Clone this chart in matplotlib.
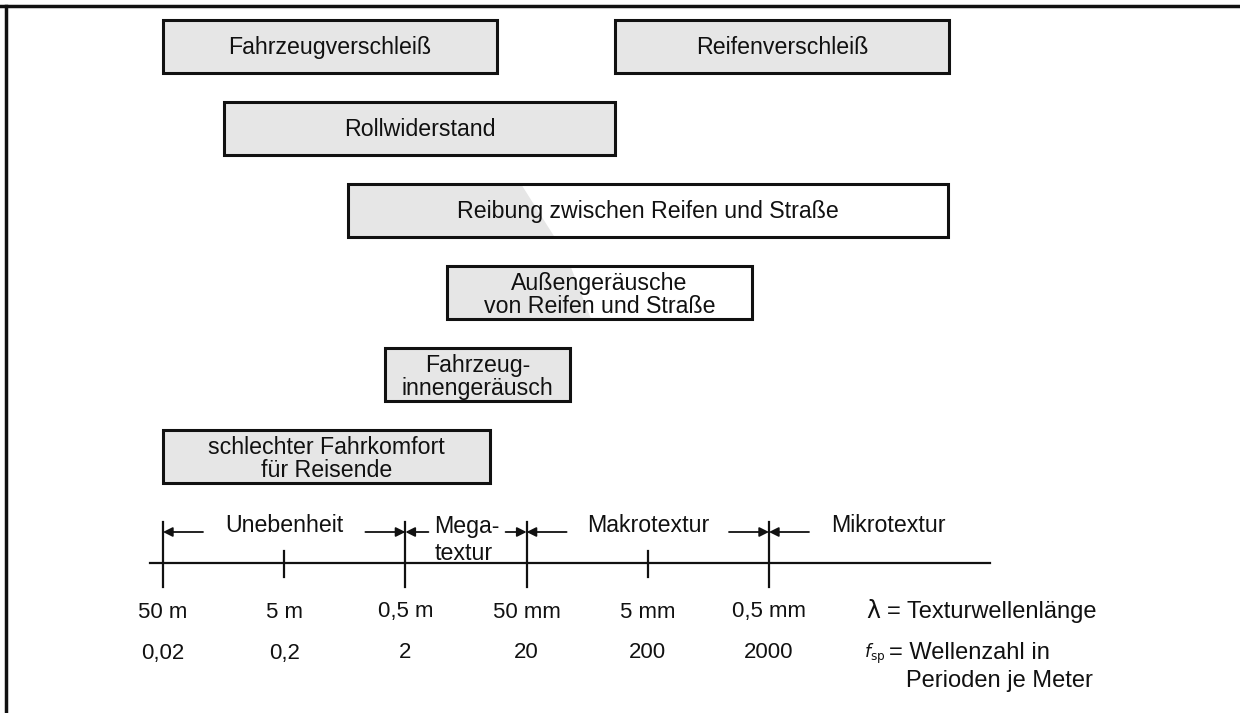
import numpy as np
import matplotlib.pyplot as plt
from matplotlib.patches import Rectangle, Polygon
from matplotlib.lines import Line2D

plt.rcParams['font.family'] = ['Liberation Sans', 'DejaVu Sans']

# effect boxes: wavenumber range (periods per metre) and row
box_labels = ["Fahrzeugverschleiß", "Reifenverschleiß", "Rollwiderstand",
              "Reibung zwischen Reifen und Straße",
              "Außengeräusche\nvon Reifen und Straße",
              "Fahrzeug-\ninnengeräusch",
              "schlechter Fahrkomfort\nfür Reisende"]
box_from = [0.02, 107, 0.064, 0.67, 4.4, 1.36, 0.02]
box_to = [11.4, 61000, 107, 60000, 1450, 46, 10]
box_row = [0, 0, 1, 2, 3, 4, 5]
# boxes shaded only partly (gray fades out between these wavenumbers)
fade_from = [None, None, None, 18, 46, None, None]
fade_to = [None, None, None, 34, 68, None, None]

# scale
tick_f = [0.02, 0.2, 2, 20, 200, 2000]
tick_lambda = ["50 m", "5 m", "0,5 m", "50 mm", "5 mm", "0,5 mm"]
tick_num = ["0,02", "0,2", "2", "20", "200", "2000"]
tick_long = [True, False, True, True, False, True]
range_names = ["Unebenheit", "Mega-\ntextur", "Makrotextur", "Mikrotextur"]
range_bounds = [0.02, 2, 20, 2000, 1.33e5]

W, H = 1240, 713
fig = plt.figure(figsize=(W / 100, H / 100), dpi=100)
ax = fig.add_axes([0, 0, 1, 1])
ax.set_xscale('log')
px_dec = 121.2
ax.set_xlim(0.02 * 10 ** (-163 / px_dec), 0.02 * 10 ** ((W - 163) / px_dec))
ax.set_ylim(H, 0)
ax.axis('off')

ink = '#111111'
gray = '#e6e6e6'
fs = 16.7
for lab, x0, x1, r, g0, g1 in zip(box_labels, box_from, box_to, box_row, fade_from, fade_to):
    top = 20 + r * 82
    h = 53
    if g0 is None:
        ax.add_patch(Rectangle((x0, top), x1 - x0, h, facecolor=gray, edgecolor='none', zorder=1))
    else:
        ax.add_patch(Polygon([(x0, top), (g0, top), (g1, top + h), (x0, top + h)],
                             closed=True, facecolor=gray, edgecolor='none', zorder=1))
    ax.add_patch(Rectangle((x0, top), x1 - x0, h, facecolor='none', edgecolor=ink,
                           lw=2.2, zorder=2))
    dy = 2.5 if '\n' in lab else 1
    ax.text(np.sqrt(x0 * x1), top + h / 2 + dy, lab, ha='center', va='center', fontsize=fs,
            linespacing=1.0, color=ink, zorder=3)

# axis line and ticks
axis_y = 563
ax.plot([0.0156, 1.33e5], [axis_y, axis_y], color=ink, lw=1.6)
for f, lam, num, lng in zip(tick_f, tick_lambda, tick_num, tick_long):
    if lng:
        ax.plot([f, f], [522, 587], color=ink, lw=1.6)
    else:
        ax.plot([f, f], [551, 577], color=ink, lw=1.6)
    ax.text(f, 612, lam, ha='center', va='center', fontsize=16, color=ink)
    ax.text(f, 653, num, ha='center', va='center', fontsize=16, color=ink)

# ranges with dimension arrows
arr_y = 532
aprops = dict(arrowstyle='-|>', color=ink, lw=1.3, mutation_scale=14, shrinkA=0, shrinkB=0)
for i, name in enumerate(range_names):
    a, b = range_bounds[i], range_bounds[i + 1]
    if name.startswith("Mega"):
        ax.annotate('', xy=(a, arr_y), xytext=(23, 0), textcoords='offset pixels', arrowprops=aprops)
        ax.annotate('', xy=(b, arr_y), xytext=(-21, 0), textcoords='offset pixels', arrowprops=aprops)
        ax.text(a * 10 ** (29 / px_dec), arr_y + 8, name, ha='left', va='center', fontsize=fs,
                linespacing=1.2, color=ink)
        continue
    ax.annotate('', xy=(a, arr_y), xytext=(40, 0), textcoords='offset pixels', arrowprops=aprops)
    if i < len(range_names) - 1:
        ax.annotate('', xy=(b, arr_y), xytext=(-40, 0), textcoords='offset pixels', arrowprops=aprops)
        cx = np.sqrt(a * b)
    else:
        cx = a * 10 ** (119 / px_dec)
    ax.text(cx, arr_y - 7, name, ha='center', va='center', fontsize=fs, color=ink)

# legend of symbols
ax.text(866 / W, 1 - 611 / H, "λ", transform=ax.transAxes, ha='left', va='center',
        fontsize=17, family='DejaVu Sans', color=ink)
ax.text(887 / W, 1 - 612 / H, "= Texturwellenlänge", transform=ax.transAxes, ha='left',
        va='center', fontsize=17, color=ink)
ax.text(864 / W, 1 - 654 / H, r"$f_{\mathrm{sp}}$", transform=ax.transAxes, ha='left',
        va='center', fontsize=12.5, color=ink)
ax.text(889 / W, 1 - 653 / H, "= Wellenzahl in", transform=ax.transAxes, ha='left',
        va='center', fontsize=17, color=ink)
ax.text(906 / W, 1 - 681 / H, "Perioden je Meter", transform=ax.transAxes, ha='left',
        va='center', fontsize=17, color=ink)

# frame (top and left only)
fig.add_artist(Line2D([0, 1], [1 - 6 / H, 1 - 6 / H], transform=fig.transFigure, color=ink, lw=2.5))
fig.add_artist(Line2D([6 / W, 6 / W], [0, 1 - 6 / H], transform=fig.transFigure, color=ink, lw=2.5))

fig.savefig('out.png', dpi=100, facecolor='white')
